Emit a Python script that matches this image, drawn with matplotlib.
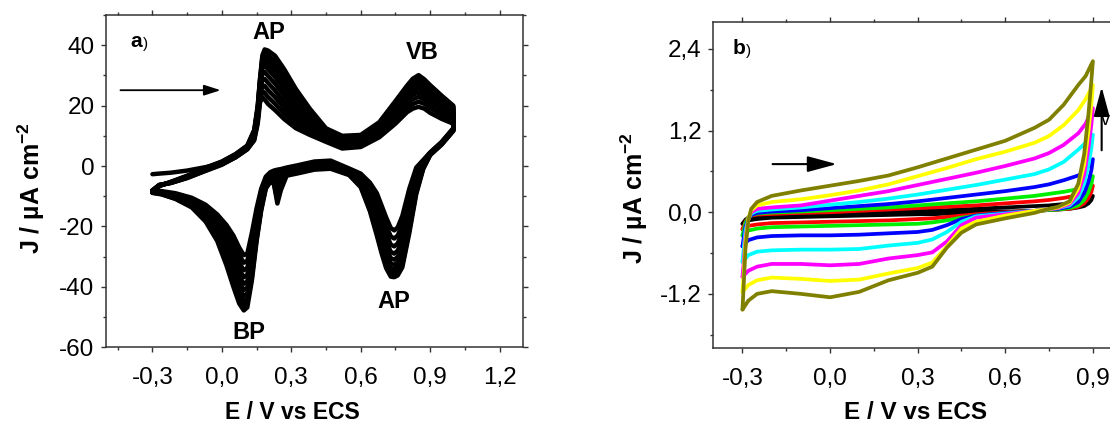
import numpy as np
import matplotlib
matplotlib.use('Agg')
import matplotlib.pyplot as plt
from matplotlib.ticker import MultipleLocator, FuncFormatter

plt.rcParams['font.family'] = ['Liberation Sans', 'DejaVu Sans']
plt.rcParams['mathtext.fontset'] = 'custom'
plt.rcParams['mathtext.rm'] = 'Liberation Sans'
plt.rcParams['mathtext.bf'] = 'Liberation Sans:bold'
plt.rcParams['mathtext.default'] = 'bf'

# ---------------- panel a) : repeated cycles (10 cycles, inner -> outer) ----------------
E_fwd_a = [-0.30, -0.27, -0.22, -0.15, -0.08, 0.00, 0.06, 0.11, 0.14, 0.155, 0.165, 0.175,
           0.185, 0.20, 0.23, 0.27, 0.32, 0.38, 0.45, 0.52, 0.60, 0.68, 0.75, 0.80, 0.825,
           0.85, 0.875, 0.90, 0.95, 1.00]
# one row per potential, one column per cycle
J_fwd_a = [
    [-2.7, -8.0, -8.1, -8.2, -8.3, -8.4, -8.5, -8.6, -8.7, -8.8],
    [-2.5, -6.2, -6.3, -6.3, -6.4, -6.4, -6.5, -6.5, -6.6, -6.6],
    [-2.2, -5.6, -5.6, -5.5, -5.5, -5.4, -5.4, -5.3, -5.3, -5.2],
    [-1.5, -4.0, -3.9, -3.8, -3.7, -3.6, -3.5, -3.4, -3.3, -3.2],
    [-0.5, -1.9, -1.8, -1.6, -1.5, -1.3, -1.2, -1.0, -0.9, -0.8],
    [0.6, 0.4, 0.6, 0.7, 0.9, 1.0, 1.1, 1.2, 1.4, 1.5],
    [2.9, 2.9, 3.1, 3.2, 3.4, 3.5, 3.6, 3.8, 3.9, 4.0],
    [5.5, 5.6, 5.8, 5.9, 6.1, 6.2, 6.4, 6.5, 6.7, 6.8],
    [8.5, 8.9, 9.3, 9.7, 10.1, 10.5, 10.9, 11.3, 11.7, 12.0],
    [14.0, 14.8, 15.6, 16.4, 17.1, 17.8, 18.4, 19.0, 19.5, 20.0],
    [21.0, 22.2, 23.4, 24.6, 25.6, 26.5, 27.3, 28.0, 28.6, 29.0],
    [22.8, 24.8, 26.8, 28.8, 30.6, 32.2, 33.6, 34.8, 35.8, 36.6],
    [22.0, 24.2, 26.5, 28.8, 31.1, 33.2, 34.8, 36.2, 37.4, 38.6],
    [20.5, 22.8, 25.1, 27.5, 29.8, 32.0, 33.8, 35.3, 36.6, 38.2],
    [18.5, 20.6, 22.8, 25.0, 27.3, 29.5, 31.4, 33.1, 34.7, 36.5],
    [15.5, 17.3, 19.2, 21.1, 23.2, 25.3, 27.2, 28.9, 30.5, 32.0],
    [12.5, 13.8, 15.2, 16.6, 18.2, 19.8, 21.3, 22.7, 24.1, 25.5],
    [10.3, 11.1, 12.0, 12.9, 13.9, 14.9, 15.9, 16.9, 17.9, 19.0],
    [8.0, 8.4, 8.8, 9.2, 9.7, 10.2, 10.7, 11.2, 11.8, 12.5],
    [5.8, 6.0, 6.3, 6.7, 7.1, 7.6, 8.1, 8.6, 9.2, 10.0],
    [6.3, 6.6, 7.0, 7.4, 7.8, 8.3, 8.8, 9.3, 9.8, 10.3],
    [9.5, 10.0, 10.6, 11.2, 11.8, 12.4, 12.9, 13.5, 14.0, 14.5],
    [14.0, 15.0, 16.0, 17.0, 18.0, 18.9, 19.7, 20.4, 21.0, 21.5],
    [17.8, 19.1, 20.5, 21.9, 23.1, 24.2, 25.0, 25.7, 26.2, 26.6],
    [19.0, 20.5, 22.1, 23.6, 24.9, 26.1, 27.0, 27.8, 28.4, 28.9],
    [19.6, 21.3, 22.9, 24.4, 25.8, 27.0, 28.0, 28.9, 29.6, 30.1],
    [19.0, 20.6, 22.0, 23.4, 24.7, 25.8, 26.7, 27.5, 28.1, 28.7],
    [17.6, 19.2, 20.7, 22.0, 23.1, 24.1, 24.9, 25.6, 26.2, 26.8],
    [15.6, 17.0, 18.3, 19.4, 20.3, 21.1, 21.8, 22.4, 22.9, 23.3],
    [14.0, 15.2, 16.3, 17.2, 17.9, 18.5, 19.0, 19.4, 19.7, 20.0],
]
E_rev_a = [1.00, 0.95, 0.90, 0.87, 0.84, 0.81, 0.78, 0.76, 0.745, 0.73, 0.71, 0.69, 0.67,
           0.64, 0.60, 0.55, 0.47, 0.40, 0.33, 0.28, 0.255, 0.24, 0.225, 0.21, 0.19, 0.17,
           0.15, 0.13, 0.11, 0.095, 0.075, 0.05, 0.02, -0.02, -0.07, -0.13, -0.20, -0.26, -0.30]
J_rev_a = [
    [12.5, 12.4, 12.3, 12.2, 12.1, 12.0, 11.9, 11.8, 11.7, 11.6],
    [8.0, 7.9, 7.8, 7.7, 7.6, 7.5, 7.4, 7.3, 7.2, 7.1],
    [4.5, 4.4, 4.3, 4.2, 4.1, 4.0, 3.9, 3.8, 3.7, 3.6],
    [2.0, 1.6, 1.2, 0.8, 0.4, 0.0, -0.3, -0.6, -0.8, -1.0],
    [-0.5, -1.8, -3.0, -4.2, -5.3, -6.3, -7.2, -8.0, -8.7, -9.3],
    [-7.5, -9.7, -11.8, -13.8, -15.6, -17.3, -18.8, -20.1, -21.2, -22.2],
    [-16.5, -19.3, -21.9, -24.4, -26.6, -28.5, -30.1, -31.5, -32.6, -33.5],
    [-20.3, -23.0, -25.6, -28.0, -30.1, -31.9, -33.4, -34.6, -35.5, -36.2],
    [-21.3, -24.0, -26.6, -29.0, -31.0, -32.7, -34.1, -35.2, -36.1, -36.8],
    [-20.5, -23.3, -26.0, -28.4, -30.5, -32.3, -33.8, -35.0, -36.0, -36.6],
    [-17.0, -19.8, -22.5, -25.0, -27.2, -29.1, -30.7, -32.0, -33.0, -33.8],
    [-13.0, -15.5, -17.9, -20.1, -22.1, -23.9, -25.5, -26.8, -27.9, -28.8],
    [-9.0, -11.0, -13.0, -14.9, -16.7, -18.3, -19.8, -21.1, -22.2, -23.1],
    [-5.5, -6.8, -8.1, -9.4, -10.6, -11.7, -12.7, -13.6, -14.4, -15.0],
    [-2.5, -3.1, -3.7, -4.3, -4.9, -5.4, -5.9, -6.3, -6.7, -7.0],
    [-0.8, -1.1, -1.4, -1.7, -2.0, -2.2, -2.4, -2.6, -2.8, -3.0],
    [1.8, 1.5, 1.2, 0.9, 0.6, 0.3, 0.0, -0.3, -0.6, -0.9],
    [1.5, 1.2, 0.9, 0.6, 0.3, 0.0, -0.3, -0.6, -0.9, -1.2],
    [0.3, 0.0, -0.3, -0.6, -0.9, -1.2, -1.5, -1.8, -2.1, -2.4],
    [-0.5, -0.8, -1.1, -1.4, -1.7, -2.0, -2.3, -2.6, -2.9, -3.2],
    [-1.0, -1.3, -1.6, -2.0, -2.5, -3.5, -4.8, -6.0, -7.0, -8.0],
    [-1.2, -1.5, -1.9, -3.0, -4.5, -6.5, -8.5, -10.0, -11.3, -12.4],
    [-1.5, -1.8, -2.2, -2.7, -3.3, -4.0, -4.6, -5.2, -5.6, -6.0],
    [-2.0, -2.4, -2.8, -3.2, -3.6, -4.0, -4.3, -4.6, -4.9, -5.2],
    [-3.5, -4.0, -4.5, -5.0, -5.5, -6.0, -6.4, -6.8, -7.2, -7.5],
    [-7.5, -8.5, -9.5, -10.5, -11.5, -12.3, -13.0, -13.7, -14.3, -14.8],
    [-14.0, -15.5, -17.0, -18.5, -20.0, -21.3, -22.5, -23.5, -24.3, -25.0],
    [-22.0, -24.0, -26.0, -28.0, -30.0, -32.0, -33.8, -35.3, -36.6, -37.8],
    [-29.0, -31.4, -33.8, -36.0, -38.2, -40.3, -42.2, -43.9, -45.4, -46.8],
    [-29.5, -32.0, -34.5, -36.8, -39.0, -41.0, -43.0, -44.8, -46.4, -47.8],
    [-27.0, -29.5, -32.0, -34.3, -36.5, -38.6, -40.5, -42.3, -44.0, -45.5],
    [-23.0, -25.2, -27.4, -29.5, -31.5, -33.4, -35.2, -36.9, -38.5, -40.0],
    [-19.5, -21.3, -23.1, -24.8, -26.4, -27.9, -29.3, -30.6, -31.8, -32.9],
    [-16.0, -17.3, -18.5, -19.7, -20.8, -21.8, -22.7, -23.5, -24.2, -24.8],
    [-12.8, -13.6, -14.4, -15.1, -15.8, -16.4, -17.0, -17.5, -18.0, -18.4],
    [-10.5, -11.0, -11.5, -11.9, -12.3, -12.7, -13.0, -13.3, -13.5, -13.7],
    [-9.0, -9.3, -9.6, -9.9, -10.1, -10.3, -10.5, -10.7, -10.8, -10.9],
    [-8.3, -8.5, -8.6, -8.8, -8.9, -9.0, -9.1, -9.2, -9.3, -9.4],
    [-8.0, -8.1, -8.2, -8.3, -8.4, -8.5, -8.6, -8.7, -8.8, -8.9],
]

# ---------------- panel b) : scan-rate series ----------------
E_fwd_b = [-0.30, -0.295, -0.29, -0.28, -0.27, -0.25, -0.20, -0.10, 0.0, 0.1, 0.2, 0.3,
           0.4, 0.5, 0.6, 0.7, 0.75, 0.8, 0.85, 0.875, 0.9]
E_rev_b = [0.9, 0.895, 0.885, 0.87, 0.85, 0.82, 0.78, 0.74, 0.7, 0.6, 0.5, 0.45, 0.4,
           0.35, 0.3, 0.2, 0.1, 0.0, -0.1, -0.2, -0.25, -0.28, -0.3]

fwd_black = [-0.17, -0.14, -0.11, -0.08, -0.06, -0.05, -0.04, -0.03, -0.02, -0.01, 0.0, 0.02,
             0.03, 0.05, 0.07, 0.09, 0.10, 0.12, 0.15, 0.18, 0.24]
rev_black = [0.24, 0.18, 0.13, 0.09, 0.07, 0.05, 0.04, 0.03, 0.02, 0.01, 0.0, -0.01, -0.02,
             -0.03, -0.03, -0.04, -0.05, -0.06, -0.07, -0.08, -0.10, -0.12, -0.17]
fwd_red = [-0.25, -0.20, -0.14, -0.08, -0.05, -0.035, -0.025, -0.01, 0.0, 0.02, 0.04, 0.06,
           0.08, 0.10, 0.13, 0.16, 0.18, 0.21, 0.25, 0.29, 0.39]
rev_red = [0.39, 0.30, 0.21, 0.13, 0.08, 0.05, 0.04, 0.03, 0.02, 0.0, -0.03, -0.05, -0.07,
           -0.09, -0.10, -0.12, -0.13, -0.14, -0.15, -0.16, -0.18, -0.20, -0.25]
fwd_green = [-0.34, -0.25, -0.16, -0.08, -0.04, -0.02, -0.005, 0.01, 0.03, 0.05, 0.07, 0.10,
             0.13, 0.16, 0.20, 0.24, 0.27, 0.30, 0.34, 0.40, 0.53]
rev_green = [0.53, 0.42, 0.30, 0.18, 0.10, 0.06, 0.04, 0.03, 0.02, -0.01, -0.05, -0.08, -0.12,
             -0.15, -0.17, -0.18, -0.19, -0.20, -0.21, -0.22, -0.24, -0.27, -0.34]
fwd_blue = [-0.50, -0.35, -0.22, -0.10, -0.04, -0.01, 0.01, 0.03, 0.06, 0.09, 0.12, 0.16,
            0.21, 0.26, 0.31, 0.37, 0.41, 0.47, 0.54, 0.61, 0.78]
rev_blue = [0.78, 0.62, 0.45, 0.28, 0.15, 0.08, 0.05, 0.04, 0.02, -0.01, -0.05, -0.10, -0.19,
            -0.26, -0.29, -0.31, -0.33, -0.34, -0.34, -0.35, -0.37, -0.41, -0.50]
fwd_cyan = [-0.73, -0.50, -0.28, -0.10, -0.02, 0.02, 0.04, 0.07, 0.11, 0.15, 0.20, 0.26,
            0.33, 0.40, 0.48, 0.56, 0.63, 0.74, 0.92, 1.02, 1.14]
rev_cyan = [1.14, 0.95, 0.70, 0.42, 0.22, 0.10, 0.06, 0.04, 0.02, -0.02, -0.06, -0.14, -0.29,
            -0.40, -0.45, -0.49, -0.54, -0.55, -0.55, -0.56, -0.58, -0.63, -0.73]
fwd_magenta = [-0.95, -0.70, -0.38, -0.10, 0.0, 0.05, 0.07, 0.10, 0.17, 0.24, 0.31, 0.40,
               0.49, 0.58, 0.68, 0.79, 0.87, 0.99, 1.16, 1.30, 1.53]
rev_magenta = [1.53, 1.30, 0.95, 0.55, 0.28, 0.12, 0.06, 0.04, 0.02, -0.03, -0.08, -0.19,
               -0.43, -0.59, -0.63, -0.68, -0.76, -0.78, -0.76, -0.76, -0.80, -0.86, -0.95]
fwd_yellow = [-1.17, -0.85, -0.45, -0.10, 0.03, 0.10, 0.15, 0.19, 0.25, 0.32, 0.41, 0.53,
              0.65, 0.78, 0.89, 1.02, 1.12, 1.28, 1.50, 1.66, 1.87]
rev_yellow = [1.87, 1.60, 1.20, 0.70, 0.35, 0.14, 0.07, 0.04, 0.02, -0.05, -0.14, -0.24,
              -0.50, -0.74, -0.82, -0.90, -0.99, -1.01, -0.98, -0.96, -1.00, -1.07, -1.17]
fwd_olive = [-1.43, -1.00, -0.55, -0.12, 0.05, 0.15, 0.24, 0.32, 0.39, 0.46, 0.54, 0.66,
             0.79, 0.92, 1.05, 1.24, 1.36, 1.58, 1.87, 2.00, 2.22]
rev_olive = [2.22, 1.95, 1.45, 0.85, 0.42, 0.16, 0.08, 0.04, -0.01, -0.09, -0.18, -0.30,
             -0.52, -0.80, -0.89, -1.00, -1.17, -1.25, -1.20, -1.16, -1.20, -1.30, -1.43]

series_b = [
    (fwd_black, rev_black, '#000000'),
    (fwd_red, rev_red, '#ff0000'),
    (fwd_green, rev_green, '#00ee00'),
    (fwd_blue, rev_blue, '#0000ff'),
    (fwd_cyan, rev_cyan, '#00ffff'),
    (fwd_magenta, rev_magenta, '#ff00ff'),
    (fwd_yellow, rev_yellow, '#ffff00'),
    (fwd_olive, rev_olive, '#808000'),
]


def comma1(v, pos):
    s = '%.1f' % v
    if s == '-0.0':
        s = '0.0'
    return s.replace('.', ',')


def style_axes(ax):
    for sp in ax.spines.values():
        sp.set_linewidth(1.1)
        sp.set_color('#333333')
    ax.tick_params(which='both', direction='out', top=True, right=True,
                   labeltop=False, labelright=False, color='#333333', width=1.0,
                   labelsize=17.5, pad=5)
    ax.tick_params(which='major', length=3.4)
    ax.tick_params(which='minor', length=2.0)
    ax.tick_params(axis='x', which='major', pad=11)


fig = plt.figure(figsize=(11.1, 4.22), dpi=100)

# ---------------- a) ----------------
ax1 = fig.add_axes([0.0956, 0.177, 0.3753, 0.7875])
Ja_f = np.array(J_fwd_a)
Ja_r = np.array(J_rev_a)
for k in range(Ja_f.shape[1]):
    ax1.plot(E_fwd_a + E_rev_a, list(Ja_f[:, k]) + list(Ja_r[:, k]),
             color='black', lw=3.2, solid_joinstyle='round', solid_capstyle='round')

ax1.set_xlim(-0.5, 1.3)
ax1.set_ylim(-60, 50)
ax1.xaxis.set_major_locator(MultipleLocator(0.3))
ax1.xaxis.set_minor_locator(MultipleLocator(0.15))
ax1.yaxis.set_major_locator(MultipleLocator(20))
ax1.yaxis.set_minor_locator(MultipleLocator(10))
ax1.xaxis.set_major_formatter(FuncFormatter(comma1))
ax1.yaxis.set_major_formatter(FuncFormatter(lambda v, p: '%d' % v))
style_axes(ax1)

ax1.set_xlabel('E / V vs ECS', fontsize=16.5, fontweight='bold')
ax1.xaxis.set_label_coords(0.448, -0.162)
fig.text(0.028, 0.555, 'J / µA cm$^{-2}$', rotation=90, ha='center', va='center',
         fontsize=18, fontweight='bold')

ta = ax1.text(-0.396, 41.1, 'a', fontsize=15, fontweight='bold', ha='left', va='center')
ax1.annotate(')', xy=(1, 0), xycoords=ta, xytext=(0.5, 0), textcoords='offset points',
             fontsize=11, ha='left', va='bottom')
ax1.text(0.203, 44.2, 'AP', fontsize=17, fontweight='bold', ha='center', va='center')
ax1.text(0.864, 37.6, 'VB', fontsize=17, fontweight='bold', ha='center', va='center')
ax1.text(0.745, -44.7, 'AP', fontsize=17, fontweight='bold', ha='center', va='center')
ax1.text(0.115, -55.0, 'BP', fontsize=17, fontweight='bold', ha='center', va='center')
ax1.annotate('', xy=(-0.005, 25.1), xytext=(-0.438, 25.1),
             arrowprops=dict(arrowstyle='-|>,head_length=1.0,head_width=0.32',
                             mutation_scale=10, color='black', lw=1.3,
                             shrinkA=0, shrinkB=0))

# ---------------- b) ----------------
ax2 = fig.add_axes([0.6426, 0.1746, 0.3683, 0.774])
for fwd, rev, col in series_b:
    ax2.plot(E_fwd_b + E_rev_b, fwd + rev, color=col, lw=2.7,
             solid_joinstyle='round', solid_capstyle='round')

ax2.set_xlim(-0.4, 1.0)
ax2.set_ylim(-2.0, 2.8)
ax2.xaxis.set_major_locator(MultipleLocator(0.3))
ax2.xaxis.set_minor_locator(MultipleLocator(0.15))
ax2.yaxis.set_major_locator(MultipleLocator(1.2))
ax2.yaxis.set_minor_locator(MultipleLocator(0.6))
ax2.xaxis.set_major_formatter(FuncFormatter(comma1))
ax2.yaxis.set_major_formatter(FuncFormatter(comma1))
style_axes(ax2)

ax2.set_xlabel('E / V vs ECS', fontsize=17.5, fontweight='bold')
ax2.xaxis.set_label_coords(0.496, -0.161)
fig.text(0.571, 0.531, 'J / µA cm$^{-2}$', rotation=90, ha='center', va='center',
         fontsize=18, fontweight='bold')

tb = ax2.text(-0.333, 2.40, 'b', fontsize=15, fontweight='bold', ha='left', va='center')
ax2.annotate(')', xy=(1, 0), xycoords=tb, xytext=(0.5, 0), textcoords='offset points',
             fontsize=11, ha='left', va='bottom')
ax2.annotate('', xy=(0.023, 0.707), xytext=(-0.197, 0.707),
             arrowprops=dict(arrowstyle='-|>,head_length=1.0,head_width=0.27',
                             mutation_scale=18, color='black', lw=1.5,
                             shrinkA=0, shrinkB=0))
ax2.annotate('', xy=(0.930, 1.84), xytext=(0.930, 0.91),
             arrowprops=dict(arrowstyle='-|>,head_length=1.0,head_width=0.27',
                             mutation_scale=18, color='black', lw=1.5,
                             shrinkA=0, shrinkB=0))
ax2.text(0.958, 1.35, 'v', fontsize=13, ha='right', va='center')

fig.savefig('out.png', dpi=100)
